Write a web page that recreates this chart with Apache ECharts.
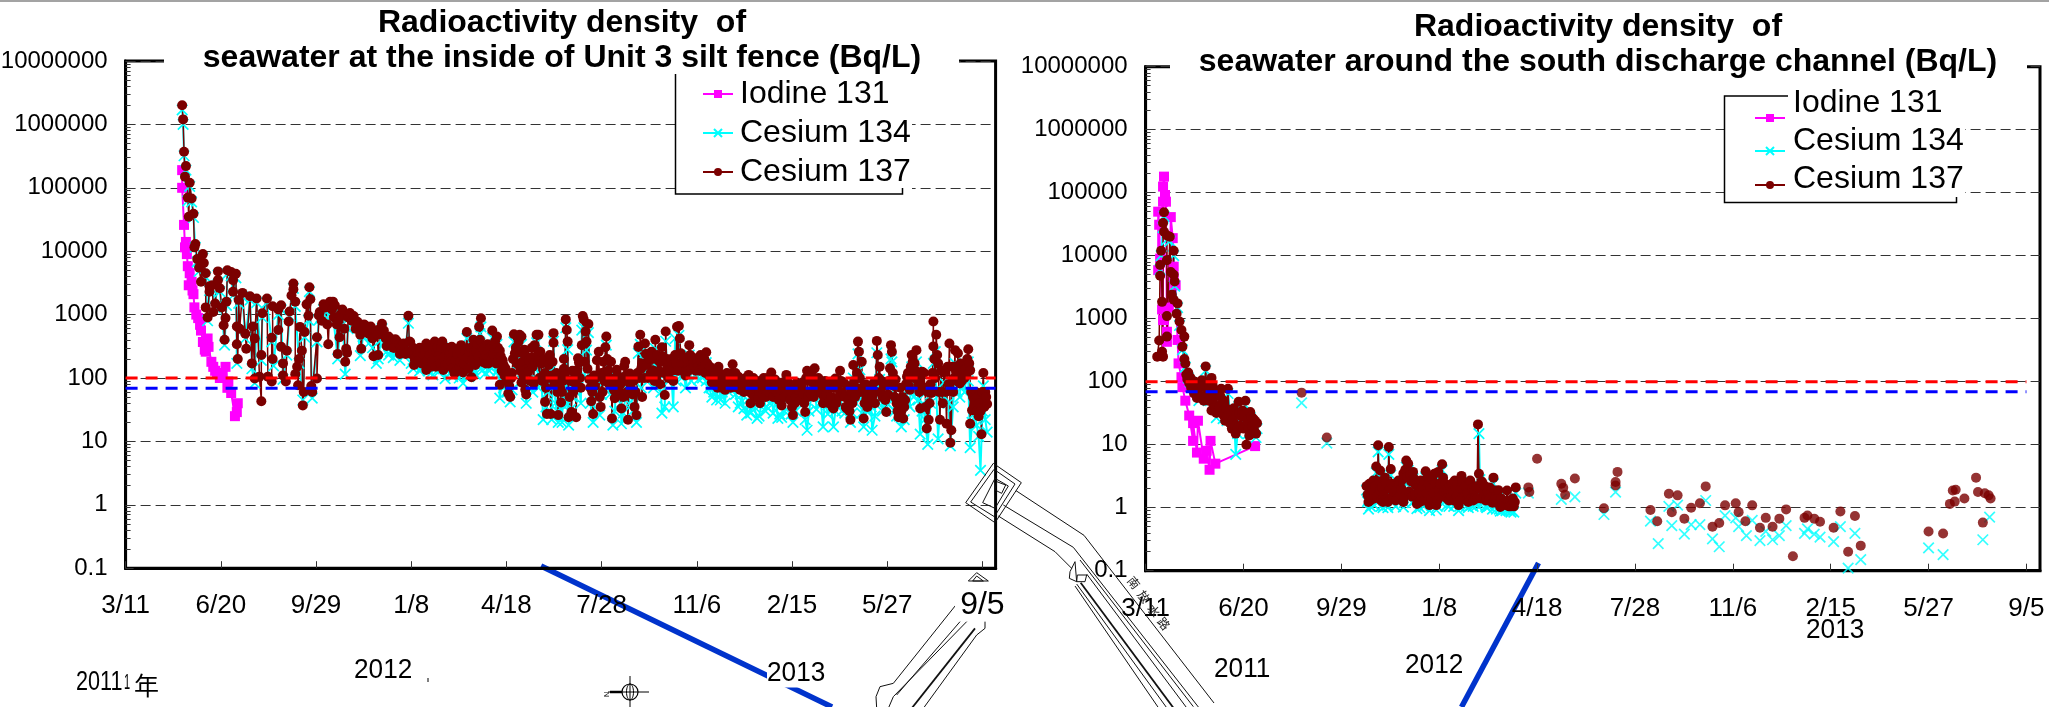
<!DOCTYPE html>
<html><head><meta charset="utf-8">
<style>html,body{margin:0;padding:0;background:#fff}#c{width:2049px;height:707px}</style>
<script src="https://cdn.jsdelivr.net/npm/echarts@6/dist/echarts.min.js"></script></head>
<body><div id="c"></div>
<script>
const xTickLabels = ['3/11','6/20','9/29','1/8','4/18','7/28','11/6','2/15','5/27','9/5'];
const yTickLabels = ['0.1','1','10','100','1000','10000','100000','1000000','10000000'];
const seriesNames = ['Iodine 131','Cesium 134','Cesium 137'];
const limitCs137 = 100, limitCs134 = 69;

const leftIodine = [[60,190000],[60,100000],[62,26000],[63,11500],[64,14000],[65,9000],[66,5800],[67,2900],[68,4500],[70,3300],[71,2400],[72,2100],[73,1300],[75,1000],[77,880],[79,690],[80,560],[82,370],[84,280],[85,260],[87,420],[88,310],[91,180],[93,150],[95,130],[97,120],[100,100],[103,115],[106,150],[108,70],[109,88],[112,58],[116,25],[118,29],[119,40]];

const leftCs137 = [[60,2000000],[61,1200000],[62,370000],[63,150000],[64,220000],[66,70000],[67,35000],[68,120000],[70,68000],[72,39000],[73,11500],[74,13000],[76,7500],[78,5500],[80,3300],[82,9000],[83,6500],[85,4500],[85,1300],[87,900],[89,2800],[89,2300],[92,2900],[93,1100],[95,1500],[98,4800],[98,3500],[100,2600],[102,1300],[104,680],[105,400],[106,880],[107,1600],[108,5000],[112,4700],[114,3500],[114,2300],[117,4400],[118,340],[118,650],[119,200],[120,1700],[121,600],[124,2200],[127,500],[128,290],[132,1950],[134,170],[135,650],[137,98],[137,420],[139,1800],[142,105],[144,43],[144,230],[145,1050],[150,1800],[151,105],[155,88],[155,430],[156,200],[156,1350],[162,1200],[162,570],[165,1400],[165,310],[167,170],[167,110],[170,88],[171,270],[173,780],[174,1120],[176,2000],[178,3100],[178,2500],[180,1600],[180,115],[182,150],[183,77],[184,200],[185,640],[187,270],[188,37],[189,60],[190,530],[192,1450],[194,960],[195,2700],[196,1750],[197,75],[198,60],[203,440],[203,98],[205,970],[210,1450],[215,340],[217,1600],[220,1600],[221,900],[224,700],[225,240],[227,440],[230,1200],[233,180],[234,290],[235,250],[238,1060],[246,770],[249,480],[250,290],[254,680],[263,220],[265,560],[268,230],[272,715],[273,480],[277,320],[281,350],[284,300],[286,410],[290,340],[291,240],[293,330],[296,280],[298,250],[300,960],[301,375],[302,370],[304,260],[307,190],[307,205],[310,240],[312,300],[315,200],[317,280],[319,350],[319,134],[322,220],[325,180],[328,375],[330,260],[333,200],[336,375],[337,134],[340,280],[343,210],[346,310],[349,118],[352,240],[355,180],[356,330],[358,122],[361,200],[362,530],[365,260],[367,103],[369,400],[372,260],[375,645],[377,875],[379,300],[381,205],[384,340],[386,215],[389,560],[391,300],[394,450],[397,270],[397,78],[400,190],[403,142],[406,57],[408,50],[409,99],[412,490],[413,245],[417,375],[418,480],[418,155],[420,450],[420,85],[424,65],[424,230],[425,55],[427,125],[430,210],[432,150],[433,82],[434,330],[436,480],[438,480],[438,180],[440,260],[443,110],[445,120],[445,42],[447,27],[449,160],[450,230],[451,27],[454,510],[454,360],[456,78],[459,26],[462,41],[463,60],[465,200],[465,140],[467,840],[468,570],[469,375],[470,24],[471,50],[473,29],[477,130],[477,82],[478,24],[480,205],[481,175],[484,330],[485,950],[486,840],[488,540],[489,375],[491,710],[494,43],[496,27],[499,100],[500,190],[502,260],[503,50],[504,35],[509,305],[509,126],[510,450],[515,180],[516,23],[519,48],[521,135],[523,75],[526,33],[529,155],[530,180],[533,22],[535,118],[540,35],[542,26],[544,310],[546,480],[548,50],[549,170],[551,350],[555,240],[558,260],[562,400],[563,93],[565,118],[569,305],[570,217],[572,54],[573,540],[578,135],[582,170],[585,645],[587,660],[588,420],[589,245],[592,210],[595,135],[598,330],[602,170],[606,205],[608,150],[611,180],[613,140],[616,255],[618,125],[621,115],[624,100],[627,92],[629,150],[631,82],[634,95],[637,110],[641,104],[644,165],[646,90],[648,82],[651,80],[654,88],[657,70],[661,112],[663,40],[666,100],[669,70],[671,48],[674,65],[677,100],[680,85],[683,75],[685,122],[688,65],[692,57],[694,80],[696,37],[698,50],[700,82],[701,112],[704,75],[708,26],[711,50],[714,65],[717,70],[721,29],[723,130],[725,60],[728,112],[731,142],[734,75],[737,82],[738,57],[741,50],[744,70],[747,45],[751,33],[753,98],[755,75],[758,130],[761,55],[765,33],[769,22],[772,160],[775,70],[777,375],[778,260],[781,180],[783,23],[786,48],[790,75],[793,60],[795,40],[797,385],[798,230],[800,150],[804,80],[807,29],[811,142],[812,330],[813,260],[816,50],[820,24],[825,23],[827,45],[829,105],[832,65],[834,230],[837,170],[839,275],[843,33],[845,126],[846,65],[850,16],[852,22],[855,58],[857,780],[857,315],[860,480],[862,170],[864,22],[868,132],[871,19],[874,350],[875,9.5],[876,15],[880,275],[880,150],[883,245],[885,82],[888,110],[893,200],[894,285],[896,132],[896,19],[898,31],[901,45],[906,40],[908,13],[910,120],[912,60],[914,39]];
const leftCs137Dense = [[206,1100],[208,800],[212,1300],[214,700],[219,1200],[222,1400],[226,800],[228,1000],[232,600],[236,900],[240,800],[242,950],[244,600],[247,700],[251,550],[253,700],[256,620],[258,500],[260,650],[262,420],[267,480],[270,600],[274,560],[276,420],[279,450],[282,380],[285,300],[288,380],[292,310],[295,350],[297,240],[303,240],[305,300],[306,160],[309,280],[311,190],[313,260],[314,170],[316,230],[318,260],[320,190],[321,300],[323,230],[324,150],[326,280],[327,200],[329,150],[331,310],[332,220],[334,170],[335,300],[338,210],[339,160],[341,300],[342,170],[344,250],[345,180],[347,140],[348,260],[350,190],[351,130],[353,290],[354,150],[357,240],[359,170],[360,280],[363,210],[364,140],[366,300],[368,190],[370,260],[371,160],[373,340],[374,220],[376,400],[378,180],[380,280],[382,170],[383,230],[385,170],[387,300],[388,190],[390,240],[392,380],[393,170],[395,300],[396,200],[398,220],[399,130],[401,160],[402,110],[404,90],[405,110],[407,75],[410,120],[411,200],[414,300],[415,170],[416,250],[419,130],[421,180],[422,110],[423,280],[426,140],[428,190],[429,90],[431,300],[435,180],[437,230],[439,100],[441,170],[442,90],[444,200],[446,70],[448,100],[452,110],[453,180],[455,90],[457,120],[458,60],[460,100],[461,70],[464,90],[466,110],[472,90],[474,130],[475,60],[476,100],[479,130],[482,100],[483,70],[487,180],[490,140],[492,95],[493,70],[495,60],[497,110],[498,75],[501,110],[505,120],[506,60],[507,180],[508,90],[511,200],[512,130],[513,80],[514,100],[517,90],[518,65],[520,100],[522,110],[524,60],[525,80],[527,100],[528,50],[531,110],[532,60],[534,85],[536,70],[537,110],[538,55],[539,90],[541,60],[543,120],[545,100],[547,140],[550,100],[552,240],[553,160],[554,100],[556,200],[557,120],[559,200],[560,130],[561,90],[564,230],[566,130],[567,80],[568,180],[571,120],[574,200],[575,150],[576,100],[577,180],[579,200],[580,130],[581,90],[583,230],[584,170],[586,130],[590,170],[591,130],[593,170],[594,110],[596,200],[597,130],[599,230],[600,140],[601,210],[603,150],[604,190],[605,130],[607,180],[609,130],[610,230],[612,150],[614,200],[615,120],[617,170],[619,110],[620,150],[622,85],[623,120],[625,78],[626,110],[628,70],[630,120],[632,70],[633,110],[635,85],[636,65],[638,120],[639,75],[640,100],[642,70],[643,120],[645,85],[647,120],[649,70],[650,105],[652,65],[653,95],[655,75],[656,60],[658,100],[659,65],[660,85],[662,60],[664,85],[665,55],[667,85],[668,50],[670,90],[672,60],[673,40],[675,85],[676,55],[678,75],[679,50],[681,100],[682,60],[684,90],[686,70],[687,50],[689,95],[690,60],[691,75],[693,45],[695,65],[697,85],[699,50],[702,60],[703,85],[705,45],[706,60],[707,35],[709,75],[710,40],[712,85],[713,50],[715,80],[716,45],[718,85],[719,55],[720,40],[722,100],[724,50],[726,90],[727,55],[729,85],[730,50],[732,85],[733,60],[735,100],[736,60],[739,75],[740,40],[742,90],[743,55],[745,75],[746,40],[748,85],[749,50],[750,35],[752,70],[754,40],[756,80],[757,50],[759,90],[760,60],[762,85],[763,50],[764,35],[766,75],[767,45],[768,30],[770,60],[771,40],[773,90],[774,50],[776,120],[779,100],[780,60],[782,70],[784,40],[785,80],[787,35],[788,60],[789,40],[791,75],[792,50],[794,85],[796,60],[799,100],[801,60],[802,90],[803,50],[805,75],[806,45],[808,80],[809,55],[810,90],[814,120],[815,75],[817,95],[818,40],[819,30],[821,40],[822,70],[823,30],[824,50],[826,35],[828,80],[830,120],[831,75],[833,150],[835,180],[836,100],[838,130],[840,120],[841,80],[842,60],[844,110],[847,120],[848,70],[849,35],[851,60],[853,40],[854,80],[856,120],[858,200],[859,100],[861,230],[863,60],[865,130],[866,60],[867,40],[869,120],[870,60],[872,150],[873,80],[877,150],[878,60],[879,100],[881,130],[882,90],[884,120],[886,170],[887,90],[889,130],[890,100],[891,140],[892,110],[895,170],[897,60],[899,50],[900,35],[902,60],[903,30],[904,50],[905,25],[907,30],[909,60],[911,35],[913,50]];

const leftCs134 = [[60,1700000],[61,1000000],[62,320000],[64,190000],[66,62000],[68,105000],[70,60000],[72,34000],[74,11500],[76,6800],[78,4800],[82,7800],[85,3900],[87,800],[89,2400],[92,2500],[95,1300],[98,4200],[100,2300],[105,330],[107,1400],[108,4400],[112,4100],[114,2000],[117,3800],[118,170],[120,1500],[124,1900],[127,420],[132,1700],[134,140],[137,83],[139,1550],[144,190],[145,900],[150,1550],[155,370],[157,155],[162,1000],[165,1200],[167,95],[171,230],[174,950],[178,2600],[180,1350],[184,170],[188,45],[190,440],[194,820],[195,2300],[198,48],[203,370],[205,820],[210,1200],[217,1350],[225,200],[230,1000],[233,115],[238,900],[246,650],[249,225],[254,570],[266,170],[272,600],[277,260],[279,230],[286,340],[293,270],[300,730],[301,300],[305,140],[310,190],[319,280],[326,112],[328,300],[336,300],[339,98],[346,240],[352,190],[358,82],[362,420],[367,134],[369,310],[376,500],[377,640],[385,160],[389,430],[394,340],[397,48],[403,110],[408,42],[412,370],[418,360],[420,340],[425,40],[430,160],[436,360],[440,190],[443,22],[449,120],[452,22],[454,380],[459,20],[463,20],[467,620],[469,280],[470,18],[477,62],[484,570],[486,620],[489,275],[491,520],[496,20],[503,26],[510,330],[515,130],[517,18],[521,100],[526,19],[535,85],[542,20],[544,245],[546,340],[551,250],[558,180],[562,290],[569,28],[573,380],[578,95],[581,35],[583,420],[587,470],[592,150],[598,230],[606,145],[616,175],[621,70],[622,50],[629,100],[631,45],[637,70],[644,110],[650,35],[654,55],[659,26],[666,65],[670,23],[677,62],[680,35],[685,80],[692,23],[696,24],[701,70],[708,20],[714,42],[723,15],[731,90],[737,50],[740,17],[751,17],[758,80],[769,20],[772,100],[777,240],[779,135],[781,28],[786,30],[792,15],[797,250],[800,95],[806,42],[812,200],[813,180],[816,30],[823,17],[829,65],[834,150],[839,180],[843,13],[846,40],[851,9],[857,170],[859,260],[862,11],[868,85],[875,8.5],[880,170],[885,50],[894,180],[896,8],[901,28],[907,3.5],[910,75],[912,22],[914,14]];
const leftCs134Dense = [[207,900],[213,900],[220,1000],[228,700],[236,600],[243,650],[252,450],[258,350],[262,300],[268,200],[271,400],[275,380],[281,260],[284,210],[288,270],[291,190],[296,240],[303,170],[307,150],[309,190],[312,130],[315,150],[318,180],[321,130],[324,120],[327,140],[330,180],[333,130],[337,150],[341,190],[344,120],[347,105],[350,140],[354,100],[357,170],[361,130],[364,105],[368,140],[371,115],[374,160],[378,130],[382,120],[386,130],[390,170],[393,120],[396,140],[399,90],[401,70],[405,60],[410,65],[414,150],[416,170],[421,90],[423,180],[428,90],[432,60],[438,70],[441,110],[446,35],[448,60],[450,130],[456,40],[458,30],[461,40],[464,50],[466,35],[468,40],[472,32],[474,50],[480,100],[483,40],[487,100],[493,40],[498,50],[501,70],[505,55],[507,100],[512,70],[514,55],[519,30],[522,60],[525,40],[528,28],[531,60],[534,40],[538,30],[547,70],[552,130],[556,100],[560,70],[564,120],[568,60],[572,35],[575,100],[579,110],[584,90],[590,100],[594,70],[600,90],[604,110],[608,95],[612,100],[616,90],[619,70],[624,60],[627,45],[633,60],[636,40],[640,60],[643,65],[647,55],[652,40],[656,33],[660,45],[663,28],[667,35],[672,25],[675,40],[679,30],[683,40],[687,28],[690,45],[694,27],[699,30],[703,45],[706,27],[711,30],[715,40],[718,45],[721,22],[725,30],[728,55],[733,32],[736,40],[742,45],[745,27],[748,40],[753,30],[756,40],[760,30],[763,28],[766,40],[771,28],[775,40],[783,17],[788,30],[791,35],[795,25],[799,40],[803,30],[808,40],[814,45],[818,25],[821,25],[826,22],[829,40],[832,35],[836,50],[841,45],[845,30],[848,22],[854,40],[856,60],[860,60],[865,60],[869,50],[873,40],[878,35],[882,60],[886,80],[890,60],[894,90],[898,20],[903,18],[905,12],[909,30]];

const rightIodine = [[13,5900],[13,50000],[14,31000],[15,9000],[17,1400],[18,72000],[18,950],[18,125000],[19,180000],[20,92000],[21,72000],[22,620],[22,430],[24,1500],[26,41000],[28,19000],[29,6700],[29,4600],[31,3400],[33,460],[34,195],[37,118],[38,82],[41,50],[45,29],[49,11.5],[49,22],[53,7.5],[54,24],[60,6],[63,8],[66,4],[67,11.5],[72,5],[113,9.5]];

const rightCs137 = [[12,250],[14,450],[15,7100],[15,4800],[16,12000],[17,1850],[17,300],[18,250],[18,33000],[19,24000],[19,49000],[22,21000],[22,1100],[22,8500],[22,520],[25,20000],[26,5500],[27,2400],[29,12000],[29,5000],[29,2000],[30,3900],[32,1200],[33,1750],[35,900],[37,660],[38,360],[40,520],[40,230],[41,195],[44,140],[46,118],[48,105],[51,100],[53,55],[54,74],[58,105],[62,175],[68,115],[68,35],[73,32],[78,77],[82,24],[85,77],[89,18],[93,15],[96,48],[103,50],[104,10],[107,14],[108,33],[109,28],[115,22],[150,null],[228,2.2],[230,1.23],[233,1.67],[235,2.7],[238,4.5],[240,9.8],[242,3.9],[242,1.88],[245,1.23],[247,3],[250,1.23],[251,9.2],[253,4.1],[257,1.77],[261,2.7],[266,1.23],[266,3.5],[269,5.6],[271,5],[273,3.3],[276,3.7],[280,1.15],[281,2.1],[283,1.23],[289,3.8],[292,2.4],[293,1.1],[298,3.45],[300,1.1],[302,3.7],[304,2.4],[306,4.9],[310,1.67],[316,2.4],[319,2.7],[323,1.1],[326,3.2],[328,1.88],[333,1.23],[335,2.7],[340,1.47],[343,21],[344,3.45],[348,2.4],[352,1.4],[359,3],[360,1.88],[364,1.9],[366,1.03],[373,1.88],[376,1.23],[378,1.1],[381,1.23],[382,2.1]];
const rightCs137Dense = [[42,130],[43,110],[45,95],[47,80],[49,100],[50,65],[52,90],[55,60],[56,95],[57,55],[59,85],[60,50],[61,90],[63,65],[64,100],[65,50],[66,85],[67,60],[69,90],[70,45],[71,75],[72,40],[74,60],[75,70],[76,40],[77,60],[79,45],[80,30],[81,50],[83,38],[84,28],[86,35],[87,22],[88,30],[90,25],[91,38],[92,20],[94,30],[95,18],[97,32],[98,20],[99,28],[100,35],[101,18],[102,30],[105,25],[106,18],[110,20],[111,26],[112,17],[113,24],[114,15],[229,1.6],[231,2.4],[232,1.3],[234,1.9],[236,1.4],[237,2.2],[239,1.5],[241,2.6],[243,1.3],[244,2.1],[246,1.6],[248,2.5],[249,1.4],[252,2],[254,2.4],[255,1.5],[256,2.2],[258,1.3],[259,1.9],[260,1.4],[262,2.4],[263,1.6],[264,2],[265,2.8],[267,1.5],[268,4],[270,3.1],[272,1.8],[274,2.6],[275,1.5],[277,2.9],[278,1.6],[279,2.3],[282,1.7],[284,2.7],[285,1.5],[286,2.2],[287,1.3],[288,2.6],[290,1.7],[291,3],[294,2.1],[295,1.4],[296,2.8],[297,1.7],[299,2.4],[301,1.3],[303,1.9],[305,1.5],[307,3],[308,1.8],[309,2.4],[311,1.4],[312,2],[313,1.3],[314,2.2],[315,1.5],[317,1.9],[318,1.3],[320,2.1],[321,1.5],[322,2.4],[324,1.3],[325,2],[327,2.6],[329,1.5],[330,2.2],[331,1.3],[332,1.7],[334,2.3],[336,1.4],[337,2],[338,1.3],[339,1.8],[341,2.2],[342,1.4],[345,2],[346,1.4],[347,2.6],[349,1.7],[350,2.2],[351,1.3],[353,1.8],[354,1.3],[355,2.1],[356,1.5],[357,1.9],[358,1.2],[361,1.5],[362,1.2],[363,1.4],[365,1.2],[367,1.4],[368,1.1],[370,1.2],[372,1.1],[374,1.3],[375,1.05],[377,1.05],[379,1.4],[380,1.05]];
const rightCs137Sparse = [[161,67],[187,13],[395,2.1],[396,1.77],[404,6],[429,2.4],[431,2.07],[433,1.6],[443,2.9],[473,0.98],[485,2.55],[485,2.25],[487,3.7],[521,0.92],[528,0.61],[540,1.67],[543,0.85],[549,1.57],[556,0.67],[563,1],[572,1.18],[578,2.18],[585,0.5],[592,0.57],[598,1.09],[609,1.18],[612,0.85],[619,0.61],[626,1.09],[634,0.48],[640,0.69],[647,0.5],[654,0.67],[661,0.94],[668,0.17],[680,0.69],[683,0.75],[690,0.67],[696,0.6],[710,0.48],[717,0.87],[725,0.2],[732,0.74],[738,0.25],[808,0.42],[823,0.39],[830,1.15],[833,1.88],[835,1.25],[836,1.93],[845,1.4],[857,3],[859,1.77],[864,0.58],[866,1.7],[870,1.57],[872,1.4]];

const rightCs134 = [[15,6000],[16,10000],[18,28000],[19,42000],[22,18000],[25,17000],[29,10000],[30,3300],[33,1500],[35,780],[38,320],[41,170],[46,100],[54,62],[62,150],[73,27],[85,65],[93,7],[96,40],[103,42],[108,27],[115,18],[150,null],[228,1.9],[230,0.95],[233,1.4],[235,2.2],[238,3.6],[240,7.7],[242,3.1],[245,1],[247,2.4],[250,1],[251,7],[253,3.3],[257,1.5],[261,2.2],[266,1.02],[269,4.4],[271,3.9],[273,1.5],[276,2.9],[280,0.97],[281,1.7],[283,1],[289,3],[292,2],[293,0.9],[298,2.7],[300,0.92],[302,3],[306,3.9],[310,1.3],[316,1.9],[319,2.1],[323,0.9],[326,2.5],[333,1],[335,2.2],[340,1.2],[344,15],[345,2.8],[348,1.9],[352,1],[359,2.4],[364,1.5],[366,0.88],[373,1.4],[376,0.95],[378,0.9],[382,1.7]];
const rightCs134Dense = [[44,115],[48,85],[51,80],[55,50],[58,85],[61,75],[64,85],[67,50],[70,40],[76,35],[80,26],[84,24],[88,26],[91,30],[95,15],[99,24],[102,25],[106,15],[111,20],[114,13],[229,1.25],[231,1.9],[232,1.05],[234,1.5],[236,1.1],[239,1.2],[241,2],[243,1.05],[246,1.3],[249,1.1],[252,1.6],[255,1.2],[258,1.05],[259,1.5],[262,1.9],[264,1.6],[267,1.2],[270,2.4],[274,2],[275,1.2],[278,1.3],[282,1.35],[285,1.2],[287,1.05],[290,1.35],[294,1.7],[295,1.1],[297,1.35],[301,1.05],[303,1.5],[305,1.2],[308,1.4],[311,1.1],[313,1.05],[315,1.2],[318,1.05],[321,1.2],[324,1.05],[327,2.1],[329,1.2],[331,1.05],[332,1.3],[336,1.1],[338,1.05],[339,1.4],[342,1.1],[346,1.1],[349,1.3],[351,1.05],[354,1.05],[356,1.2],[358,0.95],[361,1.2],[362,0.95],[365,0.95],[368,0.9],[370,0.95],[372,0.9],[375,0.9],[377,0.85],[380,0.85]];
const rightCs134Sparse = [[161,46],[187,10.6],[395,1.7],[429,1.36],[443,1.48],[473,0.78],[485,1.77],[521,0.61],[529,0.27],[540,1.05],[543,0.52],[549,1.1],[556,0.38],[563,0.54],[572,0.54],[578,1.3],[585,0.32],[592,0.24],[598,0.75],[609,0.69],[612,0.5],[620,0.36],[626,0.63],[634,0.3],[640,0.42],[647,0.31],[654,0.36],[661,0.52],[680,0.39],[683,0.46],[690,0.38],[696,0.34],[710,0.29],[717,0.5],[725,0.11],[732,0.39],[738,0.15],[808,0.23],[823,0.18],[864,0.31],[871,0.71]];

const byDay = a => a.slice().sort((p,q)=>p[0]-q[0]);
const IOD='#ff00ff', CYA='#00ffff', RED='#7b0000';
const X_PATH='path://M0 0L10 10M10 0L0 10';
const mk = {
  i:{symbol:'rect',symbolSize:10,itemStyle:{color:IOD},lineStyle:{color:IOD,width:2}},
  c4:{symbol:X_PATH,symbolSize:10.5,itemStyle:{color:'rgba(0,0,0,0)',borderColor:CYA,borderWidth:1.7},lineStyle:{color:CYA,width:2}},
  c7:{symbol:'circle',symbolSize:10,itemStyle:{color:RED},lineStyle:{color:RED,width:1.5}}
};
function line(name,idx,data,m){return Object.assign({type:'line',name,xAxisIndex:idx,yAxisIndex:idx,data,showAllSymbol:true,animation:false,silent:true,connectNulls:false},m);}
function pts(name,idx,data,m){return {type:'scatter',name,xAxisIndex:idx,yAxisIndex:idx,data,animation:false,silent:true,symbol:m.symbol,symbolSize:m.symbolSize,itemStyle:m.itemStyle};}
function limit(idx,v,end,color){return {type:'line',name:'limit '+v,xAxisIndex:idx,yAxisIndex:idx,data:[[0,v],[end,v]],symbol:'none',animation:false,silent:true,lineStyle:{color,width:3,type:[12,8]},z:5};}

const series=[
 line(seriesNames[0],0,byDay(leftIodine),mk.i),
 line(seriesNames[1],0,byDay(leftCs134.concat(leftCs134Dense)),mk.c4),
 line(seriesNames[2],0,byDay(leftCs137.concat(leftCs137Dense)),mk.c7),
 limit(0,limitCs137,923,'#ff0000'),limit(0,limitCs134,923,'#0000ff'),
 line(seriesNames[0],1,byDay(rightIodine),mk.i),
 line(seriesNames[1],1,byDay(rightCs134.concat(rightCs134Dense)),mk.c4),
 pts(seriesNames[1],1,rightCs134Sparse,mk.c4),
 line(seriesNames[2],1,byDay(rightCs137.concat(rightCs137Dense)),mk.c7),
 pts(seriesNames[2],1,rightCs137Sparse,mk.c7),
 limit(1,limitCs137,909,'#ff0000'),limit(1,limitCs134,909,'#0000ff')
];

const xTicks=xTickLabels.map((_,i)=>i*101);
const logTicks=[];for(let e=-1;e<7;e++)for(let k=1;k<10;k++)logTicks.push(k*Math.pow(10,e));logTicks.push(1e7);
const xAxisOf=(g,big,mar)=>({type:'value',gridIndex:g,min:0,max:923,splitLine:{show:false},
  axisLine:{show:true,onZero:false,lineStyle:{color:'#000',width:3}},
  axisTick:{show:true,inside:true,length:7,customValues:xTicks,lineStyle:{color:'#333',width:1}},
  axisLabel:{show:true,customValues:xTicks,margin:mar,color:'#000',fontFamily:'Liberation Sans',fontSize:26,hideOverlap:false,
    formatter:v=>{const s=xTickLabels[Math.round(v/101)];return (big&&v===909)?'{big|'+s+'}':s;},
    rich:{big:{fontSize:32,lineHeight:24,fontFamily:'Liberation Sans',color:'#000'}}}});
// main value axis: labels and the short log ticks
const yAxisOf=g=>({type:'log',logBase:10,gridIndex:g,min:0.1,max:1e7,
  axisLine:{show:true,onZero:false,lineStyle:{color:'#000',width:3}},
  axisTick:{show:true,inside:true,length:5,customValues:logTicks,lineStyle:{color:'#333',width:1}},
  axisLabel:{show:true,margin:18,color:'#000',fontFamily:'Liberation Sans',fontSize:24,hideOverlap:false,showMinLabel:true,showMaxLabel:true,
    formatter:v=>yTickLabels[Math.round(Math.log10(v))+1]},
  splitLine:{show:false}});
// companion axis: dashed decade gridlines and longer decade ticks
const yGridOf=g=>({type:'log',logBase:10,gridIndex:g,min:0.1,max:1e7,position:'left',
  axisLine:{show:false,onZero:false},axisLabel:{show:false},
  axisTick:{show:true,inside:true,length:8,lineStyle:{color:'#333',width:1}},
  splitLine:{show:true,lineStyle:{color:'#333',width:1,type:[10,5]}}});

// drawn decoration: coordinates measured on an enlarged crop with origin (860,450), 3x
const Z=p=>p.map(q=>[860+q[0]/3,450+q[1]/3]);
const stroke=(points,w=1,z=-1,c='#111')=>({type:'polyline',z,silent:true,shape:{points},style:{stroke:c,lineWidth:w,fill:null}});
const closed=(p,w=1,z=8)=>stroke(p.concat([p[0]]),w,z);
const txt=(t,x,y,s,extra={})=>({type:'text',z:extra.z||6,silent:true,x,y,rotation:extra.rot||0,scaleX:extra.sx||1,style:{text:t,fontFamily:extra.ff||'Liberation Sans',fontSize:s,fill:extra.fill||'#000',align:'left',verticalAlign:'middle',backgroundColor:extra.bg,padding:extra.pad}});

const graphic=[
 {type:'rect',z:-5,silent:true,shape:{x:0,y:0,width:2049,height:2},style:{fill:'#a3a3a3'}},
 // white masks breaking the plot frames and gridlines behind titles and legends
 {type:'rect',z:3,silent:true,shape:{x:164,y:56,width:795,height:10},style:{fill:'#fff'}},
 {type:'rect',z:3,silent:true,shape:{x:1170,y:60,width:857,height:12},style:{fill:'#fff'}},
 {type:'rect',z:3,silent:true,shape:{x:677,y:72,width:235,height:121},style:{fill:'#fff'}},
 {type:'rect',z:3,silent:true,shape:{x:1725,y:96,width:240,height:106},style:{fill:'#fff'}},
 // legend frames
 stroke([[675.5,74],[675.5,194],[902.5,194],[902.5,188]],1.5,4,'#000'),
 stroke([[1788,96],[1724.5,96],[1724.5,202.5],[1956.5,202.5],[1956.5,197]],1.5,4,'#000'),
 // diagonal blue leaders
 stroke([[541,566],[832,707]],5.5,-2,'#0033cc'),
 stroke([[1538.5,563],[1461.5,707]],5.5,-2,'#0033cc'),
 // harbour plan
 closed(Z([[400,40],[484,98],[405,218],[317,158]])),
 closed(Z([[402,58],[465,102],[403,200],[332,156]])),
 closed(Z([[405,85],[445,108],[405,175],[368,158]])),
 closed(Z([[410,95],[437,105],[425,130],[405,120]])),
 stroke(Z([[468,122],[672,256],[1062,759]])),
 stroke(Z([[430,165],[640,292],[1030,790]])),
 stroke(Z([[415,198],[585,305],[635,355]])),
 stroke(Z([[660,330],[1000,770]])),
 stroke(Z([[680,372],[985,780]])),
 stroke(Z([[662,398],[945,780]]),1.8),
 stroke(Z([[650,402],[925,780]]),1),
 stroke(Z([[645,408],[900,780]]),1),
 closed(Z([[645,335],[630,365],[628,385],[650,395],[652,375],[680,375],[675,395],[650,395]]),1,-1),
 stroke(Z([[290,462],[100,700],[60,710],[48,740],[50,775]])),
 stroke(Z([[320,515],[100,740],[85,775]])),
 stroke(Z([[300,515],[110,735]]),1),
 stroke(Z([[345,535],[155,775]]),1.8),
 stroke(Z([[375,515],[375,535],[350,555],[190,775]])),
 closed(Z([[350,368],[325,393],[385,393]]),1,-1),
 closed(Z([[350,378],[338,393],[370,393]]),1,-1),
 // white patch behind the enlarged 9/5 label
 {type:'rect',z:-1,silent:true,shape:{x:955,y:582,width:48,height:38},style:{fill:'#fff'}},
 // compass
 stroke([[608,692],[649,692]],1,1,'#000'),
 stroke([[630,676],[630,707]],1,1,'#000'),
 stroke([[610,692],[622,692]],2.5,1,'#000'),
 {type:'ellipse',z:1,silent:true,shape:{cx:630,cy:692,rx:8,ry:8},style:{stroke:'#000',lineWidth:1.2,fill:null}},
 {type:'ellipse',z:1,silent:true,shape:{cx:630,cy:692,rx:3.5,ry:8},style:{stroke:'#000',lineWidth:1,fill:null}},
 txt('N',607,697,7,{rot:Math.PI/2,z:1}),
 // year captions
 txt('2011',76,683,27,{sx:.8}),
 txt('1',124,683,22,{sx:.5}),
 txt('年',134,685,25,{ff:'Noto Sans CJK JP'}),
 txt('2012',354,671,27,{sx:.97}),
 stroke([[428,678],[428,682]],1,1,'#000'),
 txt('2013',767,674,27,{bg:'#fff',sx:.97}),
 txt('2011',1214,670,27,{sx:.97}),
 txt('2012',1405,666,27,{sx:.97}),
 txt('2013',1806,631,27,{sx:.97}),
 // small Japanese captions along the channel
 txt('南',1130,578,12,{ff:'Noto Sans CJK JP',rot:-0.9,fill:'#222'}),
 txt('放',1140,592,12,{ff:'Noto Sans CJK JP',rot:-0.9,fill:'#222'}),
 txt('水',1150,606,12,{ff:'Noto Sans CJK JP',rot:-0.9,fill:'#222'}),
 txt('路',1160,619,12,{ff:'Noto Sans CJK JP',rot:-0.9,fill:'#222'})
];

const legendText={fontFamily:'Liberation Sans',fontSize:32,color:'#000',padding:[0,0,0,2]};
const titleStyle={fontFamily:'Liberation Sans',fontWeight:'bold',fontSize:32,lineHeight:35,color:'#000'};
const option={
 backgroundColor:'#fff',animation:false,
 title:[
  {text:'Radioactivity density  of\nseawater at the inside of Unit 3 silt fence (Bq/L)',left:562,top:6,textAlign:'center',z:7,padding:0,textStyle:titleStyle},
  {text:'Radioactivity density  of\nseawater around the south discharge channel (Bq/L)',left:1598,top:10,textAlign:'center',z:7,padding:0,textStyle:titleStyle}],
 grid:[
  {left:125.6,top:61,width:870,height:507.2,show:true,borderColor:'#000',borderWidth:3,backgroundColor:'rgba(0,0,0,0)',containLabel:false,outerBoundsMode:'none'},
  {left:1145.6,top:66.7,width:894.4,height:504,show:true,borderColor:'#000',borderWidth:3,backgroundColor:'rgba(0,0,0,0)',containLabel:false,outerBoundsMode:'none'}],
 xAxis:[xAxisOf(0,true,25),xAxisOf(1,false,25)],
 yAxis:[yAxisOf(0),yAxisOf(1),yGridOf(0),yGridOf(1)],
 legend:[
  {orient:'vertical',left:702,top:78,itemWidth:30,itemHeight:10,itemGap:7,padding:0,data:seriesNames,textStyle:legendText,z:6,selectedMode:false},
  {orient:'vertical',left:1755,top:87,itemWidth:30,itemHeight:10,itemGap:6,padding:0,data:seriesNames,textStyle:legendText,z:6,selectedMode:false,
   itemStyle:{opacity:0},lineStyle:{opacity:0}},
  {orient:'vertical',left:1754,top:113,itemWidth:30,itemHeight:10,itemGap:24,padding:0,data:seriesNames,formatter:()=>'',textStyle:{fontSize:1},z:6,selectedMode:false}],
 series,graphic
};
const chart=echarts.init(document.getElementById('c'),null,{renderer:'canvas'});
chart.setOption(option);
</script></body></html>
